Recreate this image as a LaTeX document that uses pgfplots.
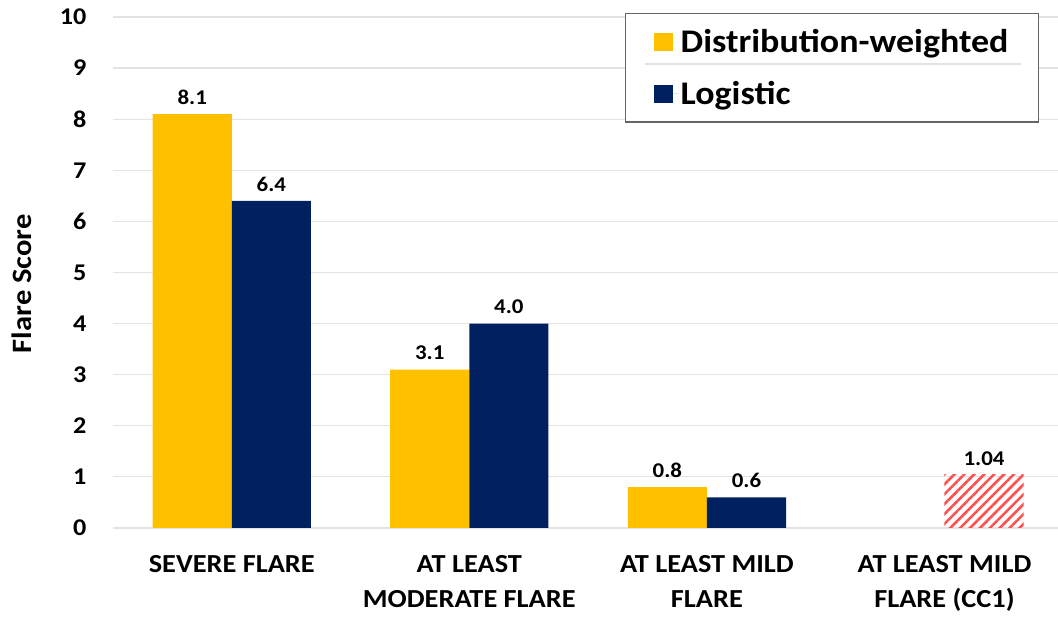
\documentclass[border=0pt]{standalone}
\usepackage{pgfplots}
\pgfplotsset{compat=1.18}
\usepackage{fontspec}
\setmainfont[FakeStretch=1.09]{Carlito}
\usetikzlibrary{patterns.meta}
\definecolor{cyel}{HTML}{FFC000}
\definecolor{cnavy}{HTML}{002060}
\definecolor{cgrid}{HTML}{E3E3E3}
\definecolor{chatch}{HTML}{FF4F4F}
\newcommand{\fs}[2]{\fontsize{#1}{#2}\selectfont\bfseries}
\begin{document}
\begin{tikzpicture}
\useasboundingbox (0,0) rectangle (1058pt,617pt);
\begin{axis}[
  at={(113pt,89pt)}, anchor=south west,
  scale only axis, width=945pt, height=511pt,
  xmin=-0.5, xmax=3.478, ymin=0, ymax=10,
  ytick={0,1,...,10},
  xtick={0,1,2,3},
  xticklabels={SEVERE FLARE, AT LEAST\\MODERATE FLARE, AT LEAST MILD\\FLARE, AT LEAST MILD\\FLARE (CC1)},
  xticklabel style={align=center, font=\fs{26}{35}, yshift=-24pt},
  yticklabel style={font=\fs{24}{28}, xshift=-23pt},
  /pgf/number format/assume math mode=true,
  major tick length=0pt,
  axis line style={draw=none},
  ymajorgrids, grid style={cgrid, line width=1.2pt},
  ylabel={Flare Score},
  every axis y label/.style={at={(axis description cs:-0.097,0.478)}, rotate=90, anchor=center, font=\fs{28}{32}},
  legend style={at={(axis description cs:0.98,1.0078)}, anchor=north east,
    draw=gray!80!black, line width=1.3pt, font=\fs{33}{37},
    inner xsep=28pt, inner ysep=14pt, row sep=23pt,
    legend cell align=left},
  nodes near coords style={font=\fs{21}{24}, text=black, anchor=south, yshift=6pt},
]
\addplot[ybar, bar width=0.333, bar shift=0, fill=cyel, draw=none,
  nodes near coords={\pgfmathprintnumber[fixed,fixed zerofill,precision=1]{\pgfplotspointmeta}},
  legend image code/.code={\fill[cyel,draw=none] (0pt,-9pt) rectangle (19pt,9pt); \path (0pt,0pt) -- (25pt,0pt);}]
  coordinates {(-0.1665,8.1) (0.8335,3.1) (1.8335,0.8)};
\addlegendentry{Distribution-weighted}
\addplot[ybar, bar width=0.333, bar shift=0, fill=cnavy, draw=none,
  nodes near coords={\pgfmathprintnumber[fixed,fixed zerofill,precision=1]{\pgfplotspointmeta}},
  legend image code/.code={\fill[cnavy,draw=none] (0pt,-9pt) rectangle (19pt,9pt); \path (0pt,0pt) -- (25pt,0pt);}]
  coordinates {(0.1665,6.4) (1.1665,4.0) (2.1665,0.6)};
\addlegendentry{Logistic}
\addplot[ybar, bar width=0.333, bar shift=0, draw=none,
  pattern={Lines[angle=45,distance=7pt,line width=2.6pt]}, pattern color=chatch,
  nodes near coords={\pgfmathprintnumber[fixed,fixed zerofill,precision=2]{\pgfplotspointmeta}},
  forget plot]
  coordinates {(3.1665,1.04)};
\end{axis}
\draw[cgrid, line width=1.2pt] (645pt,553pt) -- (1021pt,553pt);
\end{tikzpicture}
\end{document}
